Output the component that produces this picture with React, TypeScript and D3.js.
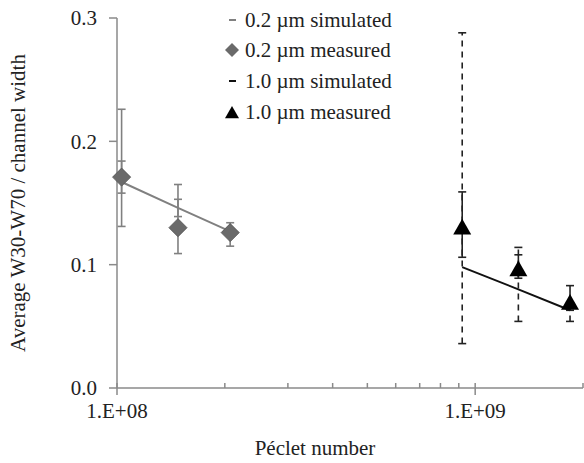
import React from "react";
import * as d3 from "d3";

const peclet02 = [1.03e8, 1.48e8, 2.07e8];
const measured02 = [0.171, 0.13, 0.126];
const outerLo02 = [0.131, 0.109, 0.115];
const outerHi02 = [0.226, 0.165, 0.134];
const innerLo02 = [0.158, 0.139, 0.123];
const innerHi02 = [0.184, 0.153, 0.129];
const simulated02 = [0.167, 0.146, 0.127];

const peclet10 = [9.2e8, 1.32e9, 1.84e9];
const measured10 = [0.13, 0.096, 0.069];
const solidLo10 = [0.106, 0.089, 0.063];
const solidHi10 = [0.159, 0.108, 0.083];
const dashLo10 = [0.036, 0.054, 0.054];
const dashHi10 = [0.288, 0.114, 0.069];
const simulated10 = [0.098, 0.08, 0.063];

const yTicks = [0, 0.1, 0.2, 0.3];
const xMajor = [1e8, 1e9];
const xMajorLabels = ["1.E+08", "1.E+09"];
const xMinor = [2e8, 3e8, 4e8, 5e8, 6e8, 7e8, 8e8, 9e8, 2e9];
const legendLabels = ["0.2 \u00b5m simulated", "0.2 \u00b5m measured", "1.0 \u00b5m simulated", "1.0 \u00b5m measured"];

const W = 584;
const H = 463;
const FONT = "'Liberation Serif', 'Times New Roman', 'DejaVu Serif', serif";
const FS = 21;

export default function App() {
  const x = d3.scaleLog().domain([1e8, 2e9]).range([117, 583]);
  const y = d3.scaleLinear().domain([0, 0.3]).range([388, 18]);
  const axisColor = "#8a8a8a";
  const gray = "#808080";
  const line = d3
    .line<[number, number]>()
    .x((d) => x(d[0]))
    .y((d) => y(d[1]));

  const errBar = (xv: number, lo: number, hi: number, color: string, dash?: string, key?: string) => {
    const cx = x(xv);
    return (
      <g key={key} stroke={color} strokeWidth={1.6}>
        <line x1={cx} x2={cx} y1={y(lo)} y2={y(hi)} strokeDasharray={dash} />
        <line x1={cx - 4} x2={cx + 4} y1={y(lo)} y2={y(lo)} />
        <line x1={cx - 4} x2={cx + 4} y1={y(hi)} y2={y(hi)} />
      </g>
    );
  };

  const diamond = (cx: number, cy: number, r: number) =>
    `M${cx},${cy - r}L${cx + r},${cy}L${cx},${cy + r}L${cx - r},${cy}Z`;
  const triangle = (cx: number, cy: number, s: number) =>
    `M${cx},${cy - s}L${cx + s},${cy + s * 0.75}L${cx - s},${cy + s * 0.75}Z`;

  const legendY = [20, 50, 81, 112];
  const ts: React.CSSProperties = { fontFamily: FONT };

  return (
    <svg
      width={W}
      height={H}
      style={{ position: "absolute", left: 0, top: 0, background: "#fff", fontFamily: FONT }}
    >
      <rect width={W} height={H} fill="#fff" />
      {/* axes */}
      <line x1={117} x2={117} y1={y(0.3)} y2={y(0)} stroke={axisColor} strokeWidth={1.5} />
      <line x1={117} x2={583} y1={y(0)} y2={y(0)} stroke={axisColor} strokeWidth={1.5} />
      {yTicks.map((t) => (
        <g key={t}>
          <line x1={109} x2={117} y1={y(t)} y2={y(t)} stroke={axisColor} strokeWidth={1.5} />
          <text x={97} y={y(t)} dy="0.35em" textAnchor="end" fontSize={FS} fill="#222" style={ts}>
            {t.toFixed(1)}
          </text>
        </g>
      ))}
      {xMinor.map((t) => (
        <line key={t} x1={x(t)} x2={x(t)} y1={y(0) - 5} y2={y(0)} stroke={axisColor} strokeWidth={1.5} />
      ))}
      {xMajor.map((t, i) => (
        <g key={t}>
          <line x1={x(t)} x2={x(t)} y1={y(0) - 5} y2={y(0) + 7} stroke={axisColor} strokeWidth={1.5} />
          <text x={x(t)} y={y(0) + 30} textAnchor="middle" fontSize={FS} fill="#222" style={ts}>
            {xMajorLabels[i]}
          </text>
        </g>
      ))}
      <text x={315} y={455} textAnchor="middle" fontSize={FS} fill="#222" style={ts}>
        Péclet number
      </text>
      <text
        transform={`translate(25,203) rotate(-90)`}
        textAnchor="middle"
        fontSize={FS}
        fill="#222"
        style={ts}
      >
        Average W30-W70 / channel width
      </text>

      {/* 0.2 um */}
      {peclet02.map((p, i) => errBar(p, outerLo02[i], outerHi02[i], gray, undefined, "o" + i))}
      {peclet02.map((p, i) => errBar(p, innerLo02[i], innerHi02[i], gray, undefined, "i" + i))}
      <path
        d={line(peclet02.map((p, i) => [p, simulated02[i]]) as [number, number][]) || ""}
        fill="none"
        stroke={gray}
        strokeWidth={2}
      />
      {peclet02.map((p, i) => (
        <path key={i} d={diamond(x(p), y(measured02[i]), 9)} fill="#6a6a6a" stroke="#5a5a5a" strokeWidth={1} />
      ))}

      {/* 1.0 um */}
      {peclet10.map((p, i) => errBar(p, dashLo10[i], dashHi10[i], "#222", "6,5", "d" + i))}
      {peclet10.map((p, i) => errBar(p, solidLo10[i], solidHi10[i], "#222", undefined, "s" + i))}
      <path
        d={line(peclet10.map((p, i) => [p, simulated10[i]]) as [number, number][]) || ""}
        fill="none"
        stroke="#111"
        strokeWidth={2}
      />
      {peclet10.map((p, i) => (
        <path key={i} d={triangle(x(p), y(measured10[i]), 9)} fill="#000" />
      ))}

      {/* legend */}
      {legendLabels.map((lab, i) => (
        <text key={lab} x={245} y={legendY[i]} dy="0.35em" fontSize={FS} fill="#222" style={ts}>
          {lab}
        </text>
      ))}
      <line x1={229} x2={236} y1={legendY[0]} y2={legendY[0]} stroke={gray} strokeWidth={2} />
      <path d={diamond(232, legendY[1], 7)} fill="#6a6a6a" />
      <line x1={229} x2={236} y1={legendY[2]} y2={legendY[2]} stroke="#111" strokeWidth={2} />
      <path d={triangle(232, legendY[3] + 1, 7)} fill="#000" />
    </svg>
  );
}
